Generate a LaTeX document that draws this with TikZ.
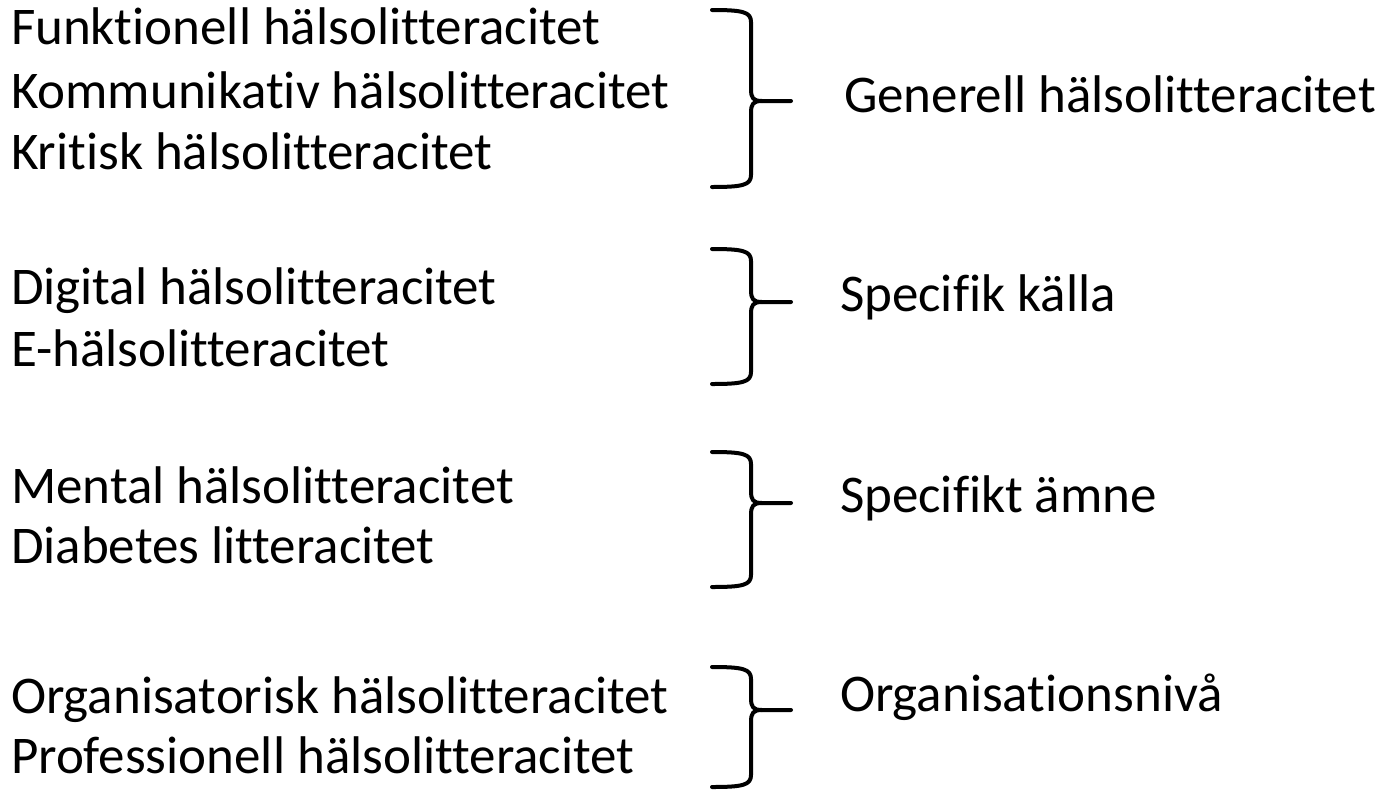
\documentclass[tikz,border=0pt]{standalone}
\usepackage{fontspec}
\setmainfont{Carlito}[Ligatures=NoCommon]
\tikzset{
  lbl/.style={anchor=base west, inner sep=0pt, outer sep=0pt, font=\fontsize{53}{63}\selectfont},
  bracestyle/.style={line width=4pt, line cap=round, line join=round, black}
}
\newcommand\mybrace[4]{%
  \coordinate (#1) at (791,#3);
  \draw[bracestyle] (712,#2) .. controls (743,#2) and (751,#2+2) .. (751,#2+12)
     -- (751,#3-12) .. controls (751,#3-3) and (753,#3) .. (762,#3) -- (#1);
  \draw[bracestyle] (762,#3) .. controls (753,#3) and (751,#3+3) .. (751,#3+12)
     -- (751,#4-12) .. controls (751,#4-2) and (743,#4) .. (712,#4);
}
\begin{document}
\begin{tikzpicture}[x=1pt,y=-1pt]
\useasboundingbox (0,0) rectangle (1386,790);
% left column
\node[lbl] (f1) at (11,44)  {Funktionell hälsolitteracitet};
\node[lbl] (f2) at (11,108) {Kommunikativ hälsolitteracitet};
\node[lbl] (f3) at (11,169) {Kritisk hälsolitteracitet};
\node[lbl] (d1) at (11,304) {Digital hälsolitteracitet};
\node[lbl] (d2) at (11,366) {E-hälsolitteracitet};
\node[lbl] (m1) at (11,503) {Mental hälsolitteracitet};
\node[lbl] (m2) at (11,563) {Diabetes litteracitet};
\node[lbl] (o1) at (11,713) {Organisatorisk hälsolitteracitet};
\node[lbl] (o2) at (11,773) {Professionell hälsolitteracitet};
% braces
\mybrace{b1}{10}{101}{187}
\mybrace{b2}{249}{302}{384}
\mybrace{b3}{452}{503}{587}
\mybrace{b4}{667}{710}{787}
% right labels
\node[lbl] (g) at (844,112) {Generell hälsolitteracitet};
\node[lbl] (s) at (840,311) {Specifik källa};
\node[lbl] (t) at (840,512) {Specifikt ämne};
\node[lbl] (n) at (840,711) {Organisationsnivå};
\end{tikzpicture}
\end{document}
